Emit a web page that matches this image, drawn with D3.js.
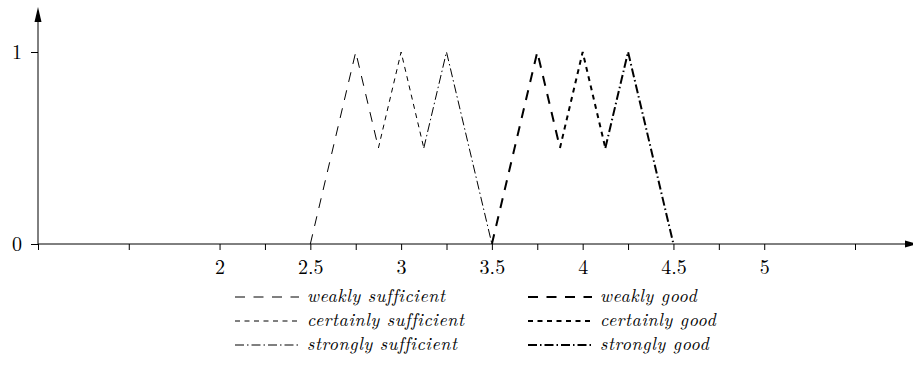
<!DOCTYPE html>
<html>
<head>
<meta charset="utf-8">
<script src="https://cdn.jsdelivr.net/npm/d3@7"></script>
<style>
  body { margin: 0; background: #fff; }
  svg { display: block; }
  text { font-family: "Latin Modern Roman", "CMU Serif", "Liberation Serif", serif; fill: #000; }
</style>
</head>
<body>
<div id="chart"></div>
<script>
// tick values and labels
const xTicks = [1, 1.5, 2, 2.25, 2.5, 2.75, 3, 3.25, 3.5, 3.75, 4, 4.25, 4.5, 4.75, 5, 5.5];
const xTickLabels = ['', '', '2', '', '2.5', '', '3', '', '3.5', '', '4', '', '4.5', '', '5', ''];
const yTicks = [0, 1];

// series (x, membership) pieces of the upper envelope
const weaklySufficient = [[2.5, 0], [2.75, 1], [2.875, 0.5]];
const certainlySufficient = [[2.875, 0.5], [3, 1], [3.125, 0.5]];
const stronglySufficient = [[3.125, 0.5], [3.25, 1], [3.5, 0]];
const weaklyGood = [[3.5, 0], [3.75, 1], [3.875, 0.5]];
const certainlyGood = [[3.875, 0.5], [4, 1], [4.125, 0.5]];
const stronglyGood = [[4.125, 0.5], [4.25, 1], [4.5, 0]];

const seriesNames = ['weakly sufficient', 'certainly sufficient', 'strongly sufficient',
                     'weakly good', 'certainly good', 'strongly good'];

const W = 913, H = 372;
const FONT = '"Latin Modern Roman", "CMU Serif", "Liberation Serif", serif';
const dashes = { weakly: '10,8.5', certainly: '5,4.5', strongly: '9,3,1.5,3' };
const series = [
  { name: seriesNames[0], data: weaklySufficient, dash: dashes.weakly, width: 1 },
  { name: seriesNames[1], data: certainlySufficient, dash: dashes.certainly, width: 1 },
  { name: seriesNames[2], data: stronglySufficient, dash: dashes.strongly, width: 1 },
  { name: seriesNames[3], data: weaklyGood, dash: dashes.weakly, width: 2 },
  { name: seriesNames[4], data: certainlyGood, dash: dashes.certainly, width: 2 },
  { name: seriesNames[5], data: stronglyGood, dash: dashes.strongly, width: 2 }
];

const svg = d3.select('#chart').append('svg')
  .attr('width', W).attr('height', H);

const x = d3.scaleLinear().domain([1, 5.5]).range([38, 855]);
const y = d3.scaleLinear().domain([0, 1]).range([244, 52]);

// x axis
const xAxis = svg.append('g')
  .attr('transform', 'translate(0,' + y(0) + ')')
  .call(d3.axisBottom(x)
    .tickValues(xTicks)
    .tickSize(6)
    .tickPadding(10)
    .tickFormat((d, i) => xTickLabels[i]));
xAxis.select('.domain').remove();
xAxis.selectAll('.tick line').attr('stroke', '#000').attr('stroke-width', 1);
xAxis.selectAll('.tick text')
  .attr('font-size', 20)
  .attr('fill', '#000')
  .style('font-family', FONT);

// y axis
const yAxis = svg.append('g')
  .attr('transform', 'translate(' + x(1) + ',0)')
  .call(d3.axisLeft(y)
    .tickValues(yTicks)
    .tickSize(7)
    .tickPadding(9)
    .tickFormat(d3.format('d')));
yAxis.select('.domain').remove();
yAxis.selectAll('.tick line').attr('stroke', '#000').attr('stroke-width', 1);
yAxis.selectAll('.tick text')
  .attr('font-size', 20)
  .attr('fill', '#000')
  .style('font-family', FONT);

// axis lines with arrows
const axisG = svg.append('g');
axisG.append('line')
  .attr('x1', x(1)).attr('y1', y(0)).attr('x2', 905).attr('y2', y(0))
  .attr('stroke', '#000').attr('stroke-width', 1);
axisG.append('path')
  .attr('d', 'M905,' + (y(0) - 3.5) + 'L917,' + y(0) + 'L905,' + (y(0) + 3.5) + 'Z')
  .attr('fill', '#000');
axisG.append('line')
  .attr('x1', x(1)).attr('y1', y(0)).attr('x2', x(1)).attr('y2', 20)
  .attr('stroke', '#000').attr('stroke-width', 1);
axisG.append('path')
  .attr('d', 'M' + (x(1) - 3.5) + ',22L' + x(1) + ',7L' + (x(1) + 3.5) + ',22Z')
  .attr('fill', '#000');

// series lines
const line = d3.line().x(d => x(d[0])).y(d => y(d[1]));
svg.append('g').selectAll('path')
  .data(series)
  .join('path')
  .attr('d', d => line(d.data))
  .attr('fill', 'none')
  .attr('stroke', '#000')
  .attr('stroke-width', d => d.width)
  .attr('stroke-dasharray', d => d.dash);

// legend: two columns of three rows
const legend = svg.append('g');
const rows = legend.selectAll('g')
  .data(series)
  .join('g')
  .attr('transform', (d, i) => {
    const col = Math.floor(i / 3), row = i % 3;
    return 'translate(' + (col === 0 ? 235 : 528) + ',' + (297 + row * 24) + ')';
  });
rows.append('line')
  .attr('x1', 0).attr('x2', 64).attr('y1', 0).attr('y2', 0)
  .attr('stroke', '#000')
  .attr('stroke-width', d => d.width)
  .attr('stroke-dasharray', d => d.dash);
rows.append('text')
  .attr('x', 72).attr('y', 5)
  .attr('font-size', 18)
  .attr('letter-spacing', 0.6)
  .attr('font-style', 'italic')
  .text(d => d.name);
</script>
</body>
</html>
